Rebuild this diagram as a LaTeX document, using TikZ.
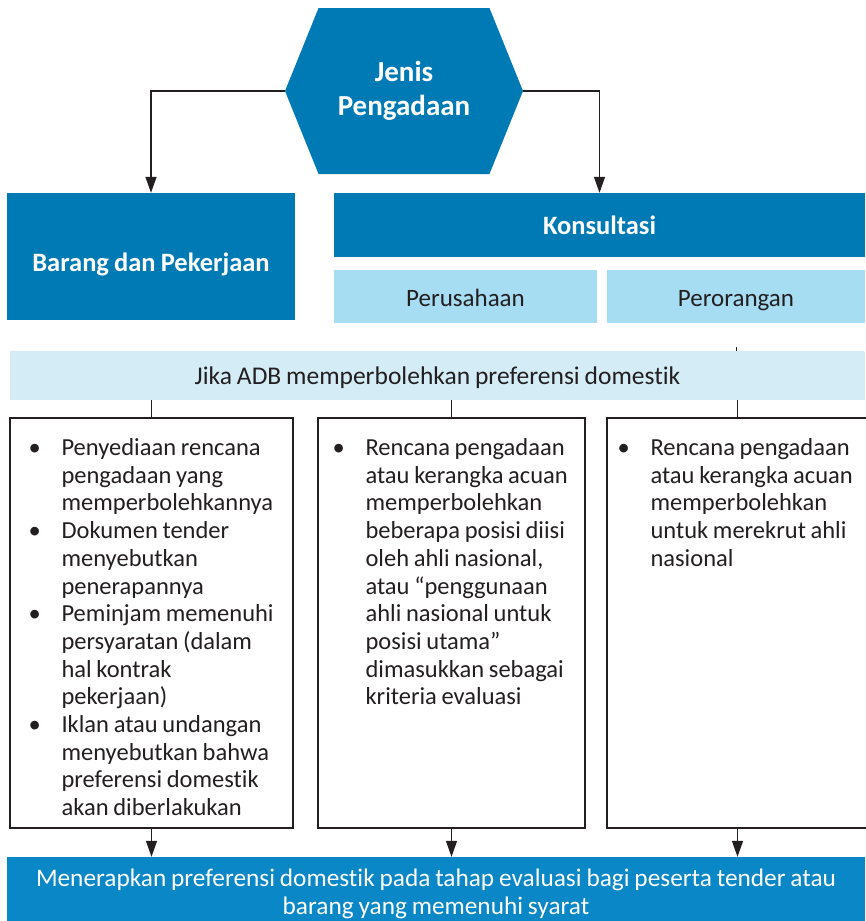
\documentclass[tikz,border=0pt]{standalone}
\usepackage{fontspec}
\setmainfont{Carlito}[Ligatures={NoCommon}, WordSpace={0.85}]
\usetikzlibrary{shapes.symbols, arrows.meta, positioning}

\definecolor{birutua}{HTML}{007AB5}
\definecolor{birubawah}{HTML}{0987C6}
\definecolor{birumuda}{HTML}{A6DDF3}
\definecolor{birupucat}{HTML}{D3ECF6}
\definecolor{hitam}{HTML}{231F20}

\newcommand\butir[1]{\par\hangindent=33pt\hangafter=1\noindent\makebox[33pt][l]{\textbullet}#1}
\newcommand\daftar[1]{\parbox[t]{262pt}{\raggedright #1\par}}

\begin{document}
\begin{tikzpicture}[x=1pt, y=-1pt, >={Triangle[length=16pt, width=11pt]},
  garis/.style={color=hitam, line width=1.3pt},
  utama/.style={fill=birutua, text=white, inner sep=0pt, font=\bfseries\fontsize{26.5}{30}\selectfont},
  muda/.style={fill=birumuda, text=hitam, inner sep=0pt, text height=22pt, text depth=3pt, font=\fontsize{25}{28}\selectfont},
  syarat/.style={fill=birupucat, text=hitam, inner sep=0pt, text height=20pt, text depth=2pt, font=\fontsize{25.5}{28}\selectfont},
  kotak/.style={draw=hitam, line width=1.3pt, fill=white, minimum height=410pt},
  teks/.style={text=hitam, inner sep=0pt, font=\fontsize{24.5}{27.7}\selectfont},
  akhir/.style={fill=birubawah, text=white, inner sep=0pt, align=center, text height=50pt, text depth=0pt, font=\fontsize{25.3}{28}\selectfont}]
  \useasboundingbox (0,0) rectangle (865,921);

  \node[shape=signal, signal to=west and east, signal pointer angle=136, fill=birutua, text=white,
        minimum width=238pt, minimum height=166pt, inner sep=0pt, align=center,
        font=\bfseries\fontsize{29}{34}\selectfont] (jenis) at (404,91) {Jenis\\Pengadaan};
  \node[utama, minimum width=288pt, minimum height=127pt] (barang) at (151,256.5) {\raisebox{-8pt}[\height][\depth]{Barang dan Pekerjaan}};
  \node[utama, minimum width=531pt, minimum height=64pt] (konsultasi) at (599.5,225) {Konsultasi};
  \node[muda, minimum width=263pt, minimum height=53pt] (perusahaan) at (465.5,296.5) {Perusahaan};
  \node[muda, minimum width=258pt, minimum height=53pt] (perorangan) at (736,296.5) {Perorangan};
  \node[syarat, minimum width=855pt, minimum height=49pt] (jika) at (437.5,375.5) {Jika ADB memperbolehkan preferensi domestik};

  \node[kotak, minimum width=283pt] (kotak1) at (151.5,623) {};
  \node[kotak, minimum width=267pt] (kotak2) at (451.5,623) {};
  \node[kotak, minimum width=261pt] (kotak3) at (737.5,623) {};

  \node[teks, anchor=north west] (isi1) at ([xshift=19pt, yshift=-21pt]kotak1.north west)
    {\daftar{\butir{Penyediaan rencana\newline pengadaan yang\newline memperbolehkannya}%
     \butir{Dokumen tender\newline menyebutkan\newline penerapannya}%
     \butir{Peminjam memenuhi\newline persyaratan (dalam\newline hal kontrak\newline pekerjaan)}%
     \butir{Iklan atau undangan\newline menyebutkan bahwa\newline preferensi domestik\newline akan diberlakukan}}};
  \node[teks, anchor=north west] (isi2) at ([xshift=15pt, yshift=-21pt]kotak2.north west)
    {\daftar{\butir{Rencana pengadaan\newline atau kerangka acuan\newline memperbolehkan\newline beberapa posisi diisi\newline oleh ahli nasional,\newline atau “penggunaan\newline ahli nasional untuk\newline posisi utama”\newline dimasukkan sebagai\newline kriteria evaluasi}}};
  \node[teks, anchor=north west] (isi3) at ([xshift=11pt, yshift=-21pt]kotak3.north west)
    {\daftar{\butir{Rencana pengadaan\newline atau kerangka acuan\newline memperbolehkan\newline untuk merekrut ahli\newline nasional}}};

  \node[akhir, minimum width=858pt, minimum height=64pt] (terapkan) at (436,889)
    {Menerapkan preferensi domestik pada tahap evaluasi bagi peserta tender atau\\barang yang memenuhi syarat};

  \path[garis, ->]
    (jenis.west) edge [to path={-| (\tikztotarget)}] (barang.north)
    (jenis.east) edge [to path={-| (\tikztotarget)}] (konsultasi.north)
    (kotak1.south) edge (kotak1.south |- terapkan.north)
    (kotak2.south) edge (kotak2.south |- terapkan.north)
    (kotak3.south) edge (kotak3.south |- terapkan.north);
  \path[garis, line width=1pt]
    (kotak1.north |- jika.south) edge (kotak1.north)
    (kotak2.north |- jika.south) edge (kotak2.north)
    (kotak3.north |- jika.south) edge (kotak3.north)
    (perorangan.south |- jika.north) edge ++(0,-4);
\end{tikzpicture}
\end{document}
